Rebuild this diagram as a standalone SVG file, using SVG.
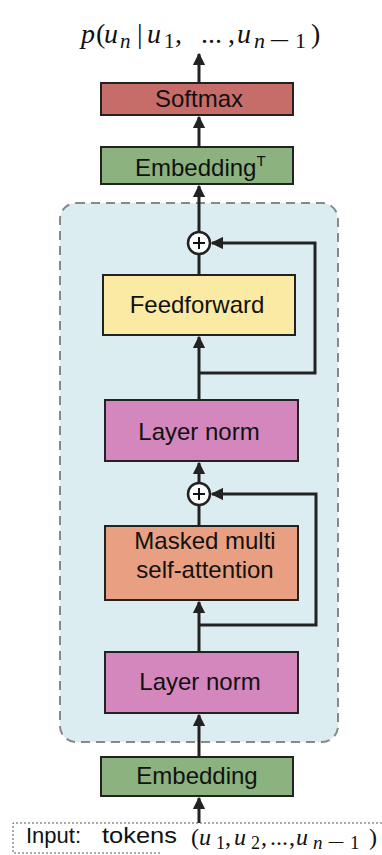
<svg xmlns="http://www.w3.org/2000/svg" width="382" height="855" viewBox="0 0 382 855">
<defs>
<style>
.box{stroke:#222;stroke-width:2}
.lbl{font-family:"Liberation Sans",Arial,sans-serif;font-size:24px;fill:#111;text-anchor:middle}
.m{font-family:"Liberation Serif","Times New Roman",serif;fill:#111}
.i{font-style:italic}
.conn{fill:none;stroke:#222;stroke-width:3}
</style>
<marker id="ah" viewBox="0 0 10 10" refX="9" refY="5" markerWidth="4.2" markerHeight="4.2" orient="auto" markerUnits="strokeWidth">
<path d="M0,0 L10,5 L0,10 Z" fill="#222"/>
</marker>
</defs>
<rect width="382" height="855" fill="#fff"/>
<g id="container">
<rect x="60" y="203" width="278" height="539" rx="16" fill="#dcedf1" stroke="#888" stroke-width="2" stroke-dasharray="9,6"/>
</g>
<g id="output" class="m" font-size="28">
<text class="i" x="81" y="43">p</text>
<text x="96" y="43">(</text>
<text class="i" x="104" y="43">u</text>
<text class="i" x="120" y="48" font-size="21">n</text>
<text x="137" y="43">|</text>
<text class="i" x="147" y="43">u</text>
<text x="164" y="48" font-size="21">1</text>
<text x="175" y="43">,</text>
<text x="201" y="43">...</text>
<text x="228" y="43">,</text>
<text class="i" x="237" y="43">u</text>
<text class="i" x="254" y="48" font-size="22">n</text>
<text x="269" y="48" font-size="22" textLength="21" lengthAdjust="spacingAndGlyphs">−</text>
<text x="295" y="48" font-size="22">1</text>
<text x="311" y="43">)</text>
</g>
<g id="softmax">
<rect class="box" x="101" y="83" width="192" height="32" fill="#c76d69"/>
<text class="lbl" x="199" y="107">Softmax</text>
</g>
<g id="embeddingT">
<rect class="box" x="101" y="147" width="192" height="37" fill="#8cb27f"/>
<text class="lbl" x="135" y="176" style="text-anchor:start">Embedding<tspan font-size="15" dy="-10">T</tspan></text>
</g>
<g id="add1">
<circle cx="199" cy="243" r="11" fill="#fff" stroke="#222" stroke-width="2.5"/>
<path d="M193,243 H205 M199,237 V249" stroke="#111" stroke-width="2"/>
</g>
<g id="feedforward">
<rect class="box" x="103" y="275" width="192" height="60" fill="#fbeaa3"/>
<text class="lbl" x="197" y="313">Feedforward</text>
</g>
<g id="layernorm1">
<rect class="box" x="105" y="400" width="193" height="61" fill="#d387bd"/>
<text class="lbl" x="199" y="440">Layer norm</text>
</g>
<g id="add2">
<circle cx="199" cy="494" r="11" fill="#fff" stroke="#222" stroke-width="2.5"/>
<path d="M193,494 H205 M199,488 V500" stroke="#111" stroke-width="2"/>
</g>
<g id="masked">
<rect class="box" x="105" y="526" width="193" height="74" fill="#e9a082"/>
<text class="lbl" x="205" y="549">Masked multi</text>
<text class="lbl" x="205" y="578">self-attention</text>
</g>
<g id="layernorm2">
<rect class="box" x="105" y="652" width="193" height="61" fill="#d387bd"/>
<text class="lbl" x="200" y="690">Layer norm</text>
</g>
<g id="embedding">
<rect class="box" x="101" y="757" width="192" height="39" fill="#8cb27f"/>
<text class="lbl" x="197" y="784">Embedding</text>
</g>
<g id="input">
<path d="M382,823 H13 V853 H160" fill="none" stroke="#555" stroke-width="1" stroke-dasharray="2,2"/>
<text x="26" y="843" font-family="'Liberation Sans',Arial,sans-serif" font-size="22" fill="#111">Input:</text>
<text x="102" y="843" font-family="'Liberation Sans',Arial,sans-serif" font-size="22" fill="#111" textLength="75" lengthAdjust="spacingAndGlyphs">tokens</text>
<g class="m" font-size="24">
<text x="191" y="845">(</text>
<text class="i" x="199" y="845">u</text>
<text x="216" y="849" font-size="18">1</text>
<text x="225" y="845">,</text>
<text class="i" x="234" y="845">u</text>
<text x="251" y="849" font-size="18">2</text>
<text x="261" y="845">,</text>
<text x="270" y="845">...</text>
<text x="289" y="845">,</text>
<text class="i" x="296" y="845">u</text>
<text class="i" x="313" y="849" font-size="19">n</text>
<text x="327" y="849" font-size="19" textLength="18" lengthAdjust="spacingAndGlyphs">−</text>
<text x="350" y="849" font-size="19">1</text>
<text x="369" y="845">)</text>
</g>
</g>
<g id="connectors">
<path class="conn" d="M199,823 V798" marker-end="url(#ah)"/>
<path class="conn" d="M199,757 V715" marker-end="url(#ah)"/>
<path class="conn" d="M199,652 V602" marker-end="url(#ah)"/>
<path class="conn" d="M199,625 H316 V494 H212" marker-end="url(#ah)"/>
<path class="conn" d="M199,526 V505"/>
<path class="conn" d="M199,483 V463" marker-end="url(#ah)"/>
<path class="conn" d="M199,400 V337" marker-end="url(#ah)"/>
<path class="conn" d="M199,373 H315 V243 H212" marker-end="url(#ah)"/>
<path class="conn" d="M199,275 V254"/>
<path class="conn" d="M199,232 V186" marker-end="url(#ah)"/>
<path class="conn" d="M199,147 V117" marker-end="url(#ah)"/>
<path class="conn" d="M199,83 V54" marker-end="url(#ah)"/>
</g>
</svg>
